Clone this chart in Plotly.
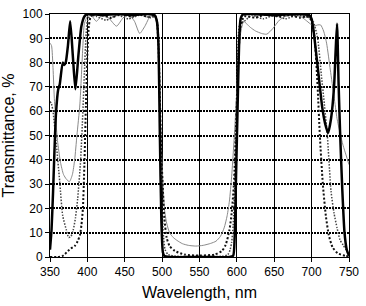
import plotly.graph_objects as go

# Thick solid black curve
wl_solid = [350, 352, 354, 356, 358, 361, 363, 367, 369, 371, 374, 377, 380.5, 384, 388, 392, 396, 400,
            420, 440, 460, 480, 490, 493, 495, 497, 499, 501, 503, 510, 550, 590, 595, 597, 599, 601,
            603, 605, 608, 620, 650, 680, 697, 700, 703, 706, 710, 714, 718, 722, 726, 730, 732, 734,
            736, 738, 741, 744, 747, 750]
t_solid = [3, 11, 26, 44, 59, 69, 71, 80, 79, 80, 87, 97, 83, 69, 83, 95, 99, 100,
           99.5, 100, 99.5, 100, 99.5, 97, 88, 50, 15, 2, 0.4, 0, 0, 0, 0.5, 8, 35, 62,
           88, 98, 99.8, 100, 99.5, 100, 99.5, 98, 92, 84, 73, 62, 55, 51, 57, 70, 84, 96,
           72, 52, 28, 10, 3, 0.5]

# Thin grey solid curve
wl_grey = [350, 352, 354, 356, 360, 364, 368, 372, 376, 380, 383, 386, 390, 394, 396, 400, 405, 412,
           420, 428, 439, 448, 456, 463, 470, 477, 484, 490, 493, 495, 497, 499, 501, 503, 506, 510,
           515, 520, 527, 535, 545, 555, 565, 572, 578, 583, 587, 590, 593, 596, 599, 602, 605, 609,
           613, 618, 625, 633, 640, 648, 657, 665, 675, 685, 692, 698, 703, 708, 712, 716, 720, 725,
           730, 734, 738, 742, 746, 750]
t_grey = [88, 87, 78, 64, 48, 39, 34, 32, 31, 34, 40, 50, 63, 87, 96, 99, 99.5, 97,
          99.5, 98.5, 95, 98.5, 99.5, 97, 92, 95, 99, 99, 96, 86, 65, 45, 31, 20, 14, 10,
          8, 6.8, 5.5, 4.8, 4.5, 4.8, 5.6, 6.5, 8.5, 12, 17, 23, 33, 47, 63, 80, 92, 97,
          96, 94.5, 93, 92, 91.7, 94, 97.5, 99, 99.5, 99, 97.5, 96, 95, 95.5, 95.5, 93, 88, 77,
          66, 57, 51, 46, 42, 38]

# Coarse black dotted curve
wl_dotb = [350, 360, 366, 370, 374, 378, 383, 387, 390, 392, 394, 396, 398, 400, 402, 404, 408,
           420, 432, 445, 458, 470, 482, 490, 493, 495, 497, 499, 501, 503, 506, 510, 517, 530,
           550, 570, 580, 585, 590, 593, 596, 599, 602, 605, 610, 625, 640, 655, 670, 685, 693,
           697, 700, 704, 708, 711, 715, 719, 723, 728, 735, 745, 750]
t_dotb = [0, 0, 0.3, 1.2, 2.5, 3.5, 4.5, 6.5, 9, 13, 20, 38, 62, 84, 95, 98.5, 100,
          99.5, 98.5, 100, 99, 99.8, 98.8, 99.5, 97, 88, 65, 42, 28, 16, 8, 4.5, 2.5, 1,
          0.6, 1, 2.5, 5, 11, 18, 30, 55, 82, 95, 99, 98.5, 100, 99, 99.5, 98.5, 99,
          98.5, 97, 90, 70, 50, 30, 17, 9, 4, 1.5, 0.5, 0.3]

# Fine dark-grey dotted curve
wl_dota = [350, 352, 354, 358, 363, 367, 372, 375, 378, 381, 384, 387, 391, 394, 396, 398, 400, 404,
           412, 425, 440, 455, 470, 485, 491, 494, 496, 498, 500, 502, 504, 508, 520, 550, 580,
           588, 591, 593, 595, 597, 599, 601, 604, 610, 620, 635, 650, 665, 680, 692, 697, 702,
           708, 713, 717, 721, 726, 730, 734, 738, 742, 746, 750]
t_dota = [64, 63, 60, 48, 31, 17, 11, 8, 8.5, 11, 16, 24, 40, 60, 76, 90, 97, 99.5,
          99, 97.5, 99.5, 98, 99.5, 98.5, 99, 96, 80, 50, 20, 8, 3, 1, 0.3, 0.2, 0.3,
          1, 3, 6, 13, 28, 55, 82, 96, 97, 99.5, 98, 99.5, 98, 99.5, 99, 98.5, 97,
          90, 75, 63, 50, 27, 18, 12, 7, 5, 3, 1]

x_ticks = [350, 400, 450, 500, 550, 600, 650, 700, 750]
y_ticks = [0, 10, 20, 30, 40, 50, 60, 70, 80, 90, 100]

fig = go.Figure()
fig.add_trace(go.Scatter(x=wl_grey, y=t_grey, mode="lines",
                         line=dict(color="#8a8a8a", width=1, shape="spline", smoothing=0.6)))
fig.add_trace(go.Scatter(x=wl_dota, y=t_dota, mode="lines",
                         line=dict(color="#444444", width=1.5, dash="1.5px,1.5px", shape="spline", smoothing=0.6)))
fig.add_trace(go.Scatter(x=wl_dotb, y=t_dotb, mode="lines",
                         line=dict(color="#111111", width=2, dash="2px,2px", shape="spline", smoothing=0.6)))
fig.add_trace(go.Scatter(x=wl_solid, y=t_solid, mode="lines",
                         line=dict(color="black", width=2.5, shape="spline", smoothing=0.6)))

fig.update_layout(
    width=366, height=306,
    margin=dict(l=50, r=16, t=7, b=45),
    plot_bgcolor="white", paper_bgcolor="white",
    showlegend=False,
    font=dict(family="Liberation Sans, Arial, sans-serif", color="black", size=12),
)
fig.update_xaxes(
    range=[350, 750], tickvals=x_ticks, ticktext=[str(v) for v in x_ticks],
    showgrid=True, gridcolor="black", gridwidth=1,
    showline=True, linecolor="black", linewidth=1, mirror=True,
    ticks="outside", ticklen=4, tickcolor="black",
    zeroline=False,
    title=dict(text="Wavelength, nm", font=dict(size=16), standoff=8),
)
fig.update_yaxes(
    range=[0, 100], tickvals=y_ticks, ticktext=[str(v) for v in y_ticks],
    showgrid=True, gridcolor="black", gridwidth=2, griddash="2px,1px",
    showline=True, linecolor="black", linewidth=1, mirror=True,
    ticks="outside", ticklen=4, tickcolor="black",
    zeroline=False,
    title=dict(text="Transmittance, %", font=dict(size=16), standoff=4),
)

fig.write_html("out.html")
